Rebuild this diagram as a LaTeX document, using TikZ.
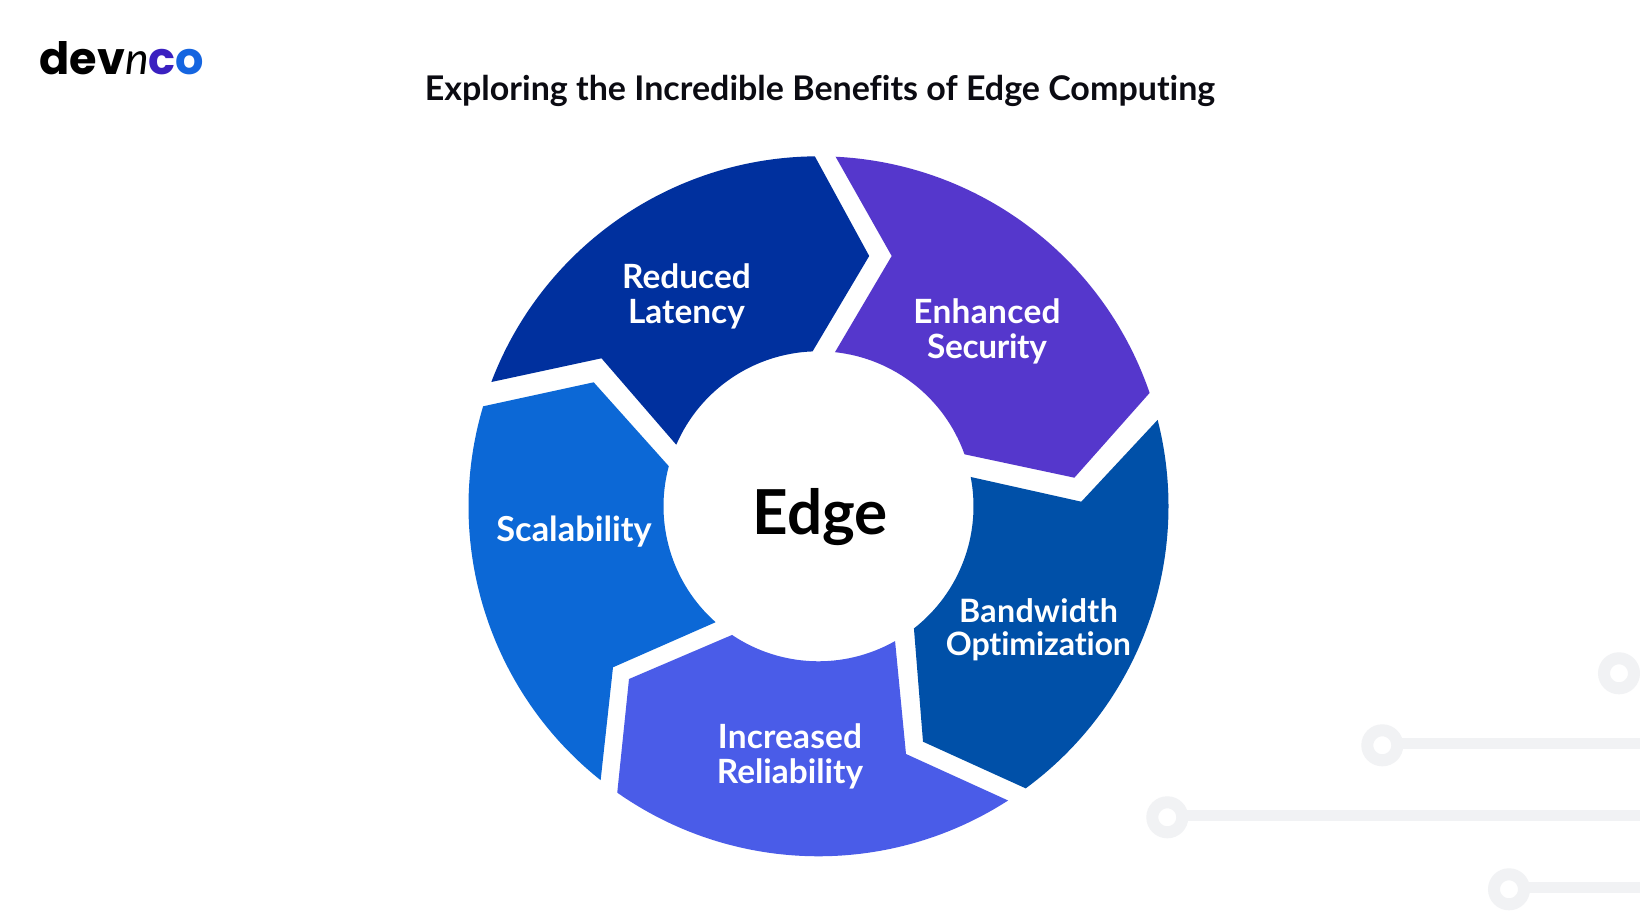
\documentclass[tikz,border=0pt]{standalone}
\usepackage{fontspec}
\setmainfont[Ligatures=NoCommon]{Lato}
\newfontfamily\logofont{Poppins}
\newfontfamily\logonfont{Lato}
\definecolor{cNavy}{HTML}{00309E}
\definecolor{cPurple}{HTML}{5537CC}
\definecolor{cBand}{HTML}{0050A8}
\definecolor{cRel}{HTML}{4A5CE8}
\definecolor{cScal}{HTML}{0C68D6}
\definecolor{cDeco}{HTML}{F1F2F4}
\definecolor{cLogoC}{HTML}{3A20C0}
\definecolor{cLogoO}{HTML}{1565E0}
\definecolor{cInk}{HTML}{0B0B12}
\tikzset{
  seglabel/.style={text=white,font=\fontsize{16.7}{17}\selectfont\bfseries,align=center,inner sep=0pt},
  decoring/.style={draw=cDeco,line width=6pt,fill=white},
  decoline/.style={draw=cDeco,line width=5.5pt},
}
\begin{document}
\begin{tikzpicture}[x=0.5pt,y=0.5pt]
\useasboundingbox (0,-924) rectangle (1640,0);
\fill[white] (0,-924) rectangle (1640,0);
\def\Ro{350}
\def\Ri{155}
\coordinate (c) at (818.5,-506.3);

% background decoration
\begin{scope}
\clip (0,-924) rectangle (1640,0);
\draw[decoline] (1400,-743.5) -- (1640,-743.5);
\draw[decoline] (1185,-815.7) -- (1640,-815.7);
\draw[decoline] (1527,-887.7) -- (1640,-887.7);
\draw[decoring] (1619,-673.3) circle[radius=15];
\draw[decoring] (1382.3,-745.3) circle[radius=15];
\draw[decoring] (1167.3,-817.3) circle[radius=15];
\draw[decoring] (1509,-889.3) circle[radius=15];
\end{scope}

% Reduced Latency
\fill[cNavy] ([shift={(90.6:\Ro)}]c) arc[start angle=90.6,end angle=159.2,radius=\Ro]
  -- (601.5,-358.3) -- ([shift={(156.6:\Ri)}]c)
  arc[start angle=156.6,end angle=92.2,radius=\Ri]
  -- (869.2,-256) -- cycle;
% Enhanced Security
\fill[cPurple] ([shift={(87.2:\Ro)}]c) arc[start angle=87.2,end angle=18.9,radius=\Ro]
  -- (1074.4,-477.7) -- ([shift={(19.6:\Ri)}]c)
  arc[start angle=19.6,end angle=83.9,radius=\Ri]
  -- (891.7,-256) -- cycle;
% Bandwidth Optimization
\fill[cBand] ([shift={(14.3:\Ro)}]c) arc[start angle=14.3,end angle=-53.7,radius=\Ro]
  -- (923,-741.7) -- ([shift={(-52:\Ri)}]c)
  arc[start angle=-52,end angle=10.9,radius=\Ri]
  -- (1081.3,-501.7) -- cycle;
% Increased Reliability
\fill[cRel] ([shift={(-57.2:\Ro)}]c) arc[start angle=-57.2,end angle=-125.1,radius=\Ro]
  -- (629,-679) -- ([shift={(-123.9:\Ri)}]c)
  arc[start angle=-123.9,end angle=-60.4,radius=\Ri]
  -- (906,-754) -- cycle;
% Scalability
\fill[cScal] ([shift={(231.5:\Ro)}]c) arc[start angle=231.5,end angle=163.4,radius=\Ro]
  -- (593.7,-382.3) -- ([shift={(165:\Ri)}]c)
  arc[start angle=165,end angle=228.4,radius=\Ri]
  -- (613,-667.3) -- cycle;

% labels
\node[seglabel] (t1) at (686.5,-296) {Reduced\\[0.5pt]Latency};
\node[seglabel] (t2) at (987,-331.5) {\addfontfeature{LetterSpace=1}Enhanced\\[0.5pt]\addfontfeature{LetterSpace=-1}Security};
\node[seglabel,font=\fontsize{16.1}{16.4}\selectfont\bfseries] (t3) at (1038.5,-629.5) {\addfontfeature{LetterSpace=1}Bandwidth\\\addfontfeature{LetterSpace=-0.5}Optimization};
\node[seglabel] (t4) at (790,-756.5) {\addfontfeature{LetterSpace=0.5}Increased\\[0.5pt]Reliability};
\node[seglabel,font=\fontsize{17.2}{18}\selectfont\bfseries] (t5) at (574,-532) {Scalability};
\node[inner sep=0pt,text=black,font=\fontsize{31}{32}\selectfont\bfseries] (t6) at (820,-517) {Edge};
\node[inner sep=0pt,text=cInk,font=\fontsize{17}{18}\selectfont\bfseries] (title) at (820,-91) {Exploring the Incredible Benefits of Edge Computing};
\node[inner sep=0pt,anchor=base west,font=\fontsize{22.3}{24}\selectfont] (logo) at (39,-75)
  {{\logofont\bfseries\textcolor{black}{dev}}{\logonfont\itshape\textcolor{black}{n}}{\logofont\bfseries\textcolor{cLogoC}{c}\textcolor{cLogoO}{o}}};
\end{tikzpicture}
\end{document}
